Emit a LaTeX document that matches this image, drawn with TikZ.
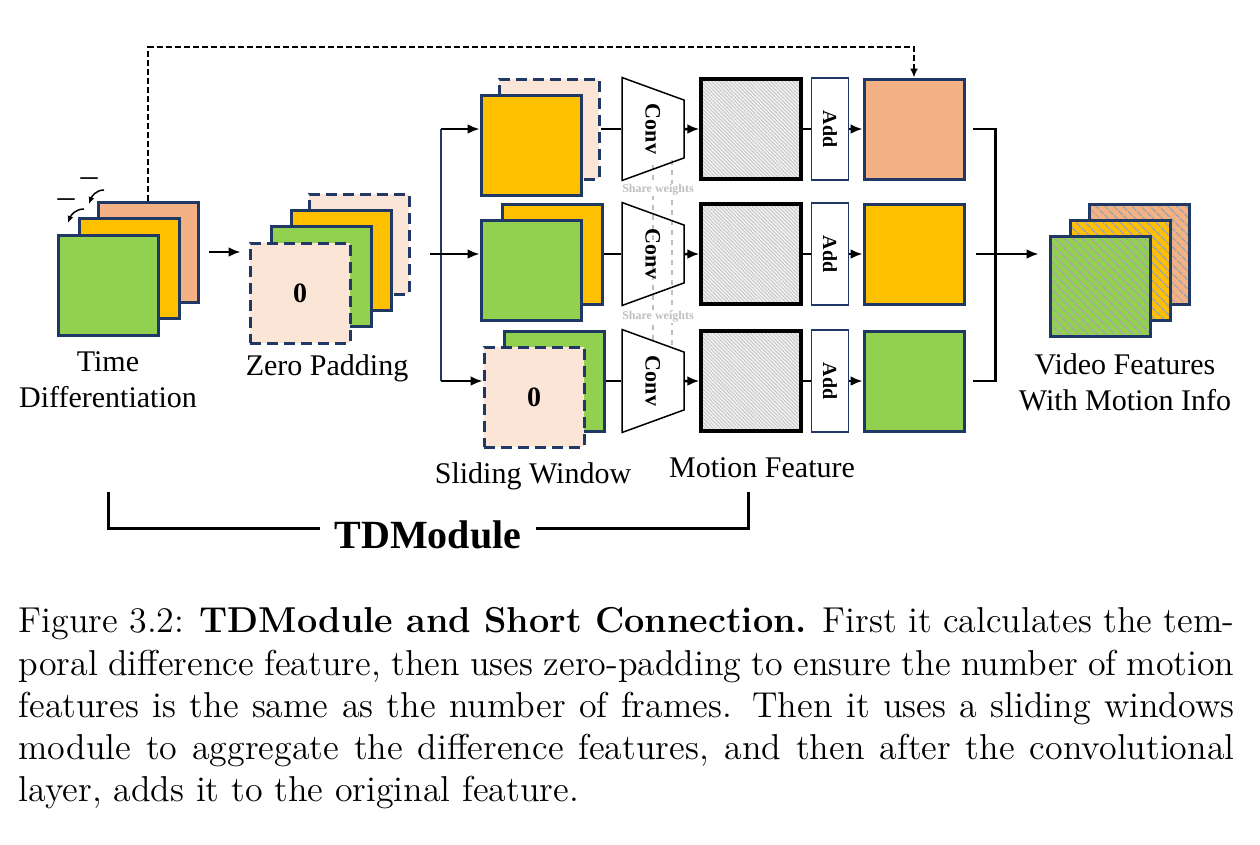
\documentclass[tikz,border=0pt]{standalone}
\usepackage{fontspec}
\usetikzlibrary{arrows.meta, shapes.geometric, patterns.meta}
\newfontfamily\tnr{Liberation Serif}
\definecolor{navy}{HTML}{1F3864}
\definecolor{fpeach}{HTML}{FBE5D6}
\definecolor{forange}{HTML}{F4B183}
\definecolor{fyellow}{HTML}{FFC000}
\definecolor{fgreen}{HTML}{92D050}
\definecolor{swgray}{HTML}{BFBFBF}

\begin{document}
\begin{tikzpicture}[x=1pt, y=-1pt,
  >={Latex[length=12pt,width=10pt]},
  sq/.style={draw=navy, line width=3pt, minimum size=100pt, inner sep=0pt},
  zpad/.style={sq, fill=fpeach, dash pattern=on 11pt off 6pt, font=\tnr\bfseries\fontsize{28}{28}\selectfont},
  hatched/.style={sq, preaction={fill=#1}, preaction={pattern={Lines[angle=-45,distance=6.5pt,line width=1.6pt]}, pattern color=gray!70}},
  motion/.style={draw, line width=3.5pt, minimum size=100pt, inner sep=0pt, preaction={fill=gray!12}, preaction={pattern={Lines[angle=-45,distance=2.6pt,line width=0.7pt]}, pattern color=gray!50}},
  convbox/.style={draw, line width=1.5pt, trapezium, trapezium angle=70, trapezium stretches body=true,
    text height=15pt, text depth=0pt, inner ysep=23.5pt, inner xsep=0pt, minimum width=103pt,
    rotate=-90, font=\tnr\bfseries\fontsize{22}{22}\selectfont},
  addbox/.style={draw=navy, line width=1.5pt, minimum width=102pt, minimum height=37pt, inner sep=0pt, rotate=-90, font=\tnr\bfseries\fontsize{20}{20}\selectfont},
  lab/.style={font=\tnr\fontsize{30}{36}\selectfont, align=center, inner sep=2pt},
  share/.style={font=\tnr\bfseries\fontsize{12}{12}\selectfont, text=swgray, fill=white, inner sep=1pt},
  minus/.style={font=\tnr\fontsize{34}{34}\selectfont, inner sep=0pt},
  arr/.style={->, line width=2.5pt},
  smallarr/.style={-{Latex[length=7pt,width=6pt]}, line width=1.5pt},
  link/.style={line width=2.5pt}]
  \useasboundingbox (0,0) rectangle (1260,844);

  % time differentiation
  \node[sq, fill=forange] (td1) at (148,252) {};
  \node[sq, fill=fyellow] (td2) at (129,268) {};
  \node[sq, fill=fgreen]  (td3) at (108,285) {};
  \node[lab] (tdlab) at (108,380) {Time\\Differentiation};
  \node[minus] (m1) at (89,182) {–};
  \node[minus] (m2) at (66,203) {–};
  \coordinate (c1s) at (104,190); \coordinate (c1e) at (89,204);
  \coordinate (c2s) at (84,209);  \coordinate (c2e) at (68,223);
  \draw[smallarr] (c1s) to[out=180,in=70] (c1e);
  \draw[smallarr] (c2s) to[out=180,in=70] (c2e);

  % zero padding
  \node[zpad] (zp1) at (359,244) {};
  \node[sq, fill=fyellow] (zp2) at (341,260) {};
  \node[sq, fill=fgreen]  (zp3) at (321,276) {};
  \node[zpad] (zp4) at (300,293) {0};
  \node[lab] (zplab) at (327,368) {Zero Padding};
  \draw[arr] ([xshift=9pt]td1.east) -- ([xshift=-8pt]zp4.west |- td1.east);

  % sliding window
  \node[zpad] (sw1b) at (549,129) {};
  \node[sq, fill=fyellow] (sw1f) at (531,145) {};
  \node[sq, fill=fyellow] (sw2b) at (552,254) {};
  \node[sq, fill=fgreen]  (sw2f) at (531,270) {};
  \node[sq, fill=fgreen]  (sw3b) at (554,381) {};
  \node[zpad] (sw3f) at (534,397) {0};
  \node[lab] (swlab) at (533,476) {Sliding Window};
  \coordinate (split) at (441,254);
  \coordinate (swin) at (430,254);
  \draw[link, navy] (split |- sw1b) -- (split |- sw3b);
  \draw[arr] (swin) -- (sw2f.west |- swin);
  \draw[arr] (split |- sw1b) -- (sw1f.west |- sw1b);
  \draw[arr] (split |- sw3b) -- (sw3f.west |- sw3b);

  % shared conv
  \draw[swgray, line width=1.2pt, dash pattern=on 5pt off 5pt] (653,165) -- (653,345);
  \draw[swgray, line width=1.2pt, dash pattern=on 5pt off 5pt] (672,160) -- (672,345);
  \node[share] (sh1) at (658,190) {Share weights};
  \node[share] (sh2) at (658,317) {Share weights};
  \node[convbox] (cv1) at (653,129) {Conv};
  \node[convbox] (cv2) at (653,254) {Conv};
  \node[convbox] (cv3) at (653,381) {Conv};

  % motion feature, add, output
  \node[motion] (mf1) at (751,129) {};
  \node[motion] (mf2) at (751,254) {};
  \node[motion] (mf3) at (751,381) {};
  \node[lab] (mflab) at (762,468) {Motion Feature};
  \node[addbox] (ad1) at (830,129) {Add};
  \node[addbox] (ad2) at (830,254) {Add};
  \node[addbox] (ad3) at (830,381) {Add};
  \node[sq, fill=forange] (out1) at (914,129) {};
  \node[sq, fill=fyellow] (out2) at (914,254) {};
  \node[sq, fill=fgreen]  (out3) at (914,381) {};

  \draw[link] (sw1b) -- (cv1); \draw[arr] (cv1) -- (mf1);
  \draw[link] (mf1) -- (ad1);  \draw[arr] (ad1) -- (out1);
  \draw[link] (sw2b) -- (cv2); \draw[arr] (cv2) -- (mf2);
  \draw[link] (mf2) -- (ad2);  \draw[arr] (ad2) -- (out2);
  \draw[link] (sw3b) -- (cv3); \draw[arr] (cv3) -- (mf3);
  \draw[link] (mf3) -- (ad3);  \draw[arr] (ad3) -- (out3);

  % video features with motion info
  \node[hatched=forange] (vf1) at (1139,254) {};
  \node[hatched=fyellow] (vf2) at (1120,270) {};
  \node[hatched=fgreen]  (vf3) at (1100,286) {};
  \node[lab] (vflab) at (1125,382) {Video Features\\With Motion Info};
  \draw[link] ([xshift=7pt]out1.east) -| ([xshift=30pt]out3.east) -- ([xshift=7pt]out3.east);
  \draw[arr] ([xshift=10pt]out2.east) -- ([xshift=-10pt]vf3.west |- out2);

  % short connection
  \coordinate (top) at (0,47);
  \draw[line width=2pt, dash pattern=on 6pt off 3pt, -{Latex[length=9pt,width=8pt]}]
    (td1.north) -- (td1.north |- top) -| (out1.north);

  % module bracket
  \node[font=\tnr\bfseries\fontsize{40}{40}\selectfont, inner sep=14pt] (tdm) at (428,535) {TDModule};
  \coordinate (bl) at (108,492); \coordinate (br) at (748,492);
  \draw[line width=3pt] (bl) |- ([yshift=7pt]tdm.west);
  \draw[line width=3pt] (br) |- ([yshift=7pt]tdm.east);

  % caption
  \node[anchor=north west, inner sep=0pt, align=left, scale=3, font=\fontsize{12}{14.1}\selectfont] (cap) at (18,607)
    {\makebox[405.3pt][s]{Figure 3.2: \textbf{TDModule and Short Connection.} First it calculates the tem-}\\
     \makebox[405.3pt][s]{poral difference feature, then uses zero-padding to ensure the number of motion}\\
     \makebox[405.3pt][s]{features is the same as the number of frames. Then it uses a sliding windows}\\
     \makebox[405.3pt][s]{module to aggregate the difference features, and then after the convolutional}\\
     layer, adds it to the original feature.};
\end{tikzpicture}
\end{document}
